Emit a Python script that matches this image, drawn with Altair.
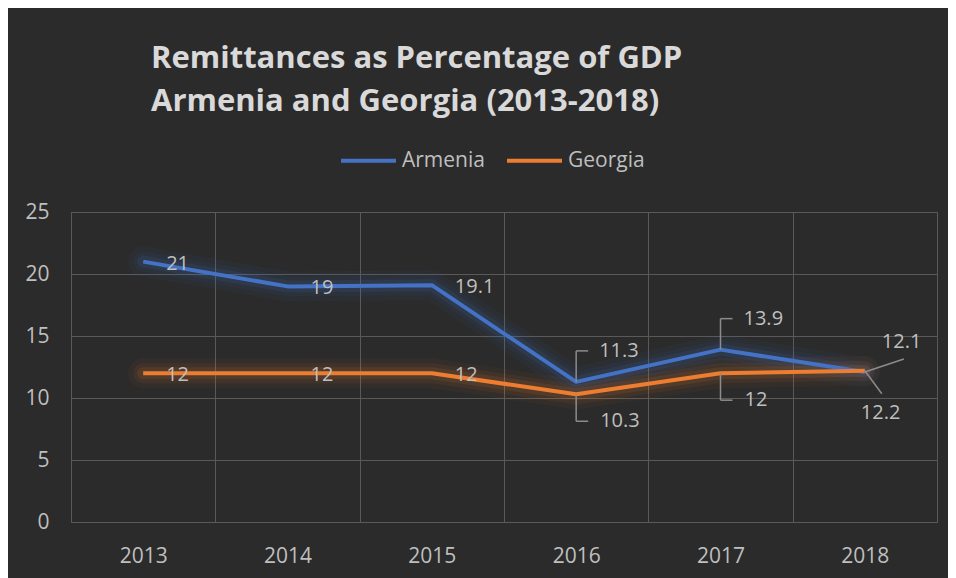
import altair as alt
import pandas as pd

years = ["2013", "2014", "2015", "2016", "2017", "2018"]
armenia = [21, 19, 19.1, 11.3, 13.9, 12.1]
georgia = [12, 12, 12, 10.3, 12, 12.2]
series_names = ["Armenia", "Georgia"]
series_colors = ["#4472c4", "#ed7d31"]
y_ticks = [0, 5, 10, 15, 20, 25]
title_lines = ["Remittances as Percentage of GDP", "Armenia and Georgia (2013-2018)"]

rows = []
for y, a, g in zip(years, armenia, georgia):
    rows.append({"year": y, "series": "Armenia", "value": a})
    rows.append({"year": y, "series": "Georgia", "value": g})
df = pd.DataFrame(rows)

FONT = "Open Sans"
GRID = "#595959"
TEXT = "#bfbfbf"

x_enc = alt.X("year:N", title=None, scale=alt.Scale(paddingInner=0, paddingOuter=0),
              axis=alt.Axis(tickBand="extent", grid=True, ticks=False, labelAngle=0,
                            labelPadding=23, domainColor=GRID, gridColor=GRID))
y_enc = alt.Y("value:Q", title=None, scale=alt.Scale(domain=[0, 25]),
              axis=alt.Axis(values=y_ticks, ticks=False, domain=False, labelPadding=22,
                            gridColor=GRID))
color_enc = alt.Color("series:N", scale=alt.Scale(domain=series_names, range=series_colors),
                      legend=alt.Legend(orient="none", legendX=268, legendY=-81,
                                        direction="horizontal", title=None,
                                        symbolType="stroke", symbolSize=3025,
                                        symbolStrokeWidth=4, symbolOpacity=1,
                                        labelFont=FONT, labelFontSize=21, labelColor=TEXT,
                                        labelOffset=4, columnPadding=14))

base = alt.Chart(df)

glows = [
    base.mark_line(strokeWidth=w, opacity=o, strokeCap="round", strokeJoin="round").encode(
        x=x_enc, y=y_enc, color=color_enc)
    for w, o in [(30, 0.05), (20, 0.07), (12, 0.11)]
]
lines = base.mark_line(strokeWidth=4, strokeJoin="round").encode(x=x_enc, y=y_enc, color=color_enc)


def pick(pairs):
    return alt.FieldOneOfPredicate(field="key", oneOf=[f"{s}-{y}" for s, y in pairs])


lbl = base.transform_calculate(key="datum.series + '-' + datum.year")

label_style = dict(font=FONT, fontSize=20, color=TEXT, align="left", baseline="middle")


def labels(pairs, dx, dy):
    return lbl.transform_filter(pick(pairs)).mark_text(dx=dx, dy=dy, **label_style).encode(
        x=x_enc, y=y_enc, text=alt.Text("value:Q", format="~g"))


right_pairs = [("Armenia", "2013"), ("Armenia", "2014"), ("Armenia", "2015"),
               ("Georgia", "2013"), ("Georgia", "2014"), ("Georgia", "2015")]
up_pairs = [("Armenia", "2016"), ("Armenia", "2017")]
down_pairs = [("Georgia", "2016"), ("Georgia", "2017")]

LEAD = "#8c8c8c"


def leader_v(pairs, off):
    return lbl.transform_filter(pick(pairs)).mark_rule(color=LEAD, strokeWidth=1.5, y2Offset=off).encode(
        x=x_enc, y=y_enc, y2="value:Q")


def leader_h(pairs, off):
    return lbl.transform_filter(pick(pairs)).mark_rule(color=LEAD, strokeWidth=1.5, yOffset=off,
                                                        x2Offset=12).encode(
        x=x_enc, x2="year:N", y=y_enc)


def leader_d(pairs, ox, oy):
    return lbl.transform_filter(pick(pairs)).mark_rule(color=LEAD, strokeWidth=1.5, x2Offset=ox,
                                                        y2Offset=oy).encode(
        x=x_enc, x2="year:N", y=y_enc, y2="value:Q")


layers = glows + [
    lines,
    leader_v(up_pairs, -31), leader_h(up_pairs, -31),
    leader_v(down_pairs, 27), leader_h(down_pairs, 27),
    leader_d([("Armenia", "2018")], 39, -13),
    leader_d([("Georgia", "2018")], 17, 23),
    labels(right_pairs, 23, 2),
    labels(up_pairs, 23, -31),
    labels(down_pairs, 24, 27),
    labels([("Armenia", "2018")], 17, -30),
    labels([("Georgia", "2018")], -4, 42),
]

chart = alt.layer(*layers).properties(
    width=866, height=310,
    padding={"left": 63, "top": 204, "right": 11, "bottom": 56},
    autosize=alt.AutoSizeParams(type="none"),
    background="#2b2b2b",
    title=alt.TitleParams(text=title_lines, anchor="start", frame="group", dx=80,
                          font=FONT, fontSize=31, fontWeight="bold", color="#d9d9d9",
                          lineHeight=43, baseline="bottom", offset=-18),
).configure_view(stroke=GRID).configure_axis(
    labelFont=FONT, labelFontSize=21, labelColor=TEXT, gridWidth=1
)

chart.save("out.html", embed_options={"renderer": "svg", "actions": False})
